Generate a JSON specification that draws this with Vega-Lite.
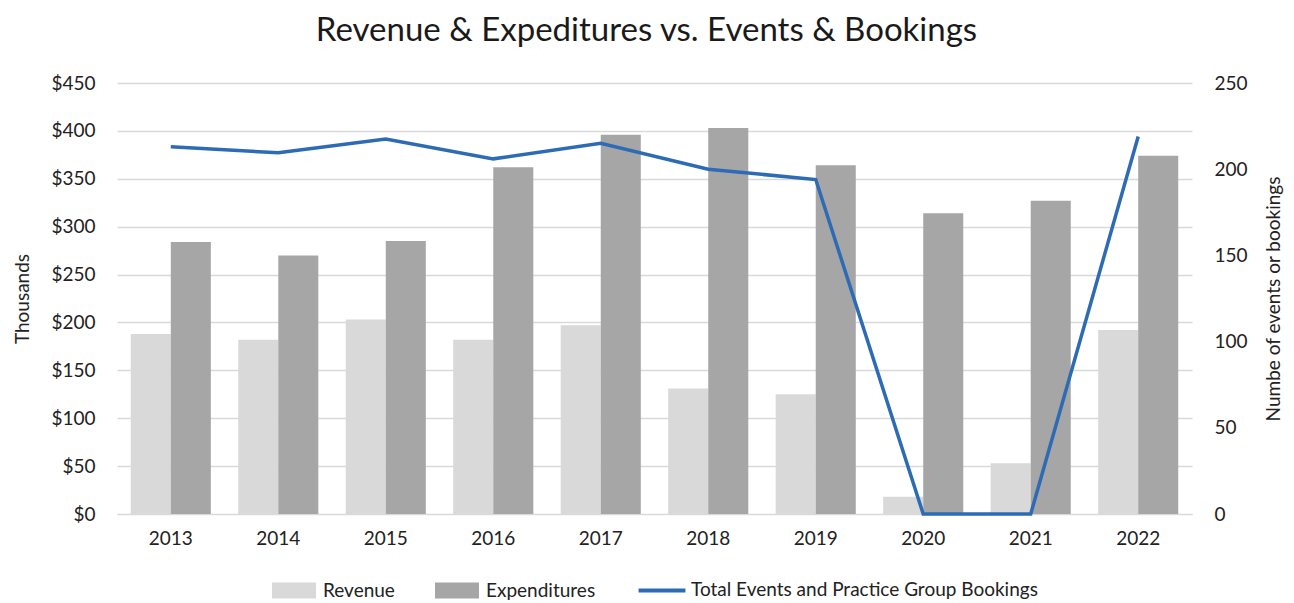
{
  "$schema": "https://vega.github.io/schema/vega-lite/v6.json",
  "width": 1075,
  "height": 431,
  "autosize": {"type": "none"},
  "padding": {"left": 117, "top": 83, "right": 102, "bottom": 89},
  "background": "white",
  "config": {
    "font": "Lato",
    "view": {"stroke": null},
    "legend": {"layout": {"bottom": {"anchor": "middle"}}}
  },
  "title": {
    "text": "Revenue & Expeditures vs. Events & Bookings",
    "fontSize": 33,
    "fontWeight": "normal",
    "color": "#1a1a1a",
    "offset": 26,
    "anchor": "middle",
    "dx": -8
  },
  "data": {
    "values": [
      {"year": "2013", "Revenue": 188, "Expenditures": 284, "events": 213},
      {"year": "2014", "Revenue": 182, "Expenditures": 270, "events": 209.5},
      {"year": "2015", "Revenue": 203, "Expenditures": 285, "events": 217.5},
      {"year": "2016", "Revenue": 182, "Expenditures": 362, "events": 206},
      {"year": "2017", "Revenue": 197, "Expenditures": 396, "events": 215},
      {"year": "2018", "Revenue": 131, "Expenditures": 403, "events": 200},
      {"year": "2019", "Revenue": 125, "Expenditures": 364, "events": 194},
      {"year": "2020", "Revenue": 18, "Expenditures": 314, "events": 0},
      {"year": "2021", "Revenue": 53, "Expenditures": 327, "events": 0},
      {"year": "2022", "Revenue": 192, "Expenditures": 374, "events": 219}
    ]
  },
  "layer": [
    {
      "transform": [{"fold": ["Revenue", "Expenditures"], "as": ["series", "value"]}],
      "mark": {"type": "bar"},
      "encoding": {
        "x": {
          "field": "year",
          "type": "ordinal",
          "scale": {"paddingInner": 0.255, "paddingOuter": 0.128},
          "axis": {
            "title": null,
            "labelAngle": 0,
            "labelFontSize": 19,
            "labelColor": "#222222",
            "labelPadding": 15,
            "ticks": false,
            "domain": true,
            "domainColor": "#d9d9d9",
            "grid": false
          }
        },
        "xOffset": {"field": "series", "sort": ["Revenue", "Expenditures"]},
        "y": {
          "field": "value",
          "type": "quantitative",
          "scale": {"domain": [0, 450]},
          "axis": {
            "title": "Thousands",
            "titleFontSize": 19,
            "titleFontWeight": "normal",
            "titleColor": "#222222",
            "titlePadding": 18,
            "values": [0, 50, 100, 150, 200, 250, 300, 350, 400, 450],
            "labelExpr": "'$' + datum.value",
            "labelFontSize": 19,
            "labelColor": "#222222",
            "labelPadding": 22,
            "ticks": false,
            "domain": false,
            "grid": true,
            "gridColor": "#d9d9d9",
            "gridWidth": 1.5
          }
        },
        "color": {
          "field": "series",
          "type": "nominal",
          "scale": {
            "domain": ["Revenue", "Expenditures", "Total Events and Practice Group Bookings"],
            "range": ["#d9d9d9", "#a6a6a6", "#2e6bb5"]
          },
          "legend": {
            "title": null,
            "orient": "bottom",
            "direction": "horizontal",
            "offset": 20,
            "labelFontSize": 19,
            "labelColor": "#222222",
            "labelLimit": 0,
            "symbolSize": 1600,
            "columnPadding": 34,
            "labelOffset": 7,
            "encode": {
              "symbols": {
                "update": {
                  "shape": {"signal": "datum.value === 'Total Events and Practice Group Bookings' ? 'M-1,-0.26M-1,0H1M1,0.26' : 'M-1,-0.3H1V0.3H-1Z'"},
                  "size": {"signal": "datum.value === 'Total Events and Practice Group Bookings' ? 2200 : 1600"},
                  "fill": {"signal": "datum.value === 'Total Events and Practice Group Bookings' ? 'transparent' : scale('color', datum.value)"},
                  "stroke": {"signal": "datum.value === 'Total Events and Practice Group Bookings' ? scale('color', datum.value) : 'transparent'"},
                  "strokeWidth": {"value": 4},
                  "opacity": {"value": 1}
                }
              }
            }
          }
        }
      }
    },
    {
      "mark": {"type": "line", "strokeWidth": 3.5},
      "encoding": {
        "x": {"field": "year", "type": "ordinal"},
        "y": {
          "field": "events",
          "type": "quantitative",
          "scale": {"domain": [0, 250]},
          "axis": {
            "orient": "right",
            "title": "Numbe of events or bookings",
            "titleAngle": 270,
            "titleFontSize": 19,
            "titleFontWeight": "normal",
            "titleColor": "#222222",
            "titlePadding": 36,
            "values": [0, 50, 100, 150, 200, 250],
            "labelFontSize": 19,
            "labelColor": "#222222",
            "labelPadding": 22,
            "ticks": false,
            "domain": false,
            "grid": false
          }
        },
        "color": {"datum": "Total Events and Practice Group Bookings"}
      }
    }
  ],
  "resolve": {"scale": {"y": "independent"}}
}
